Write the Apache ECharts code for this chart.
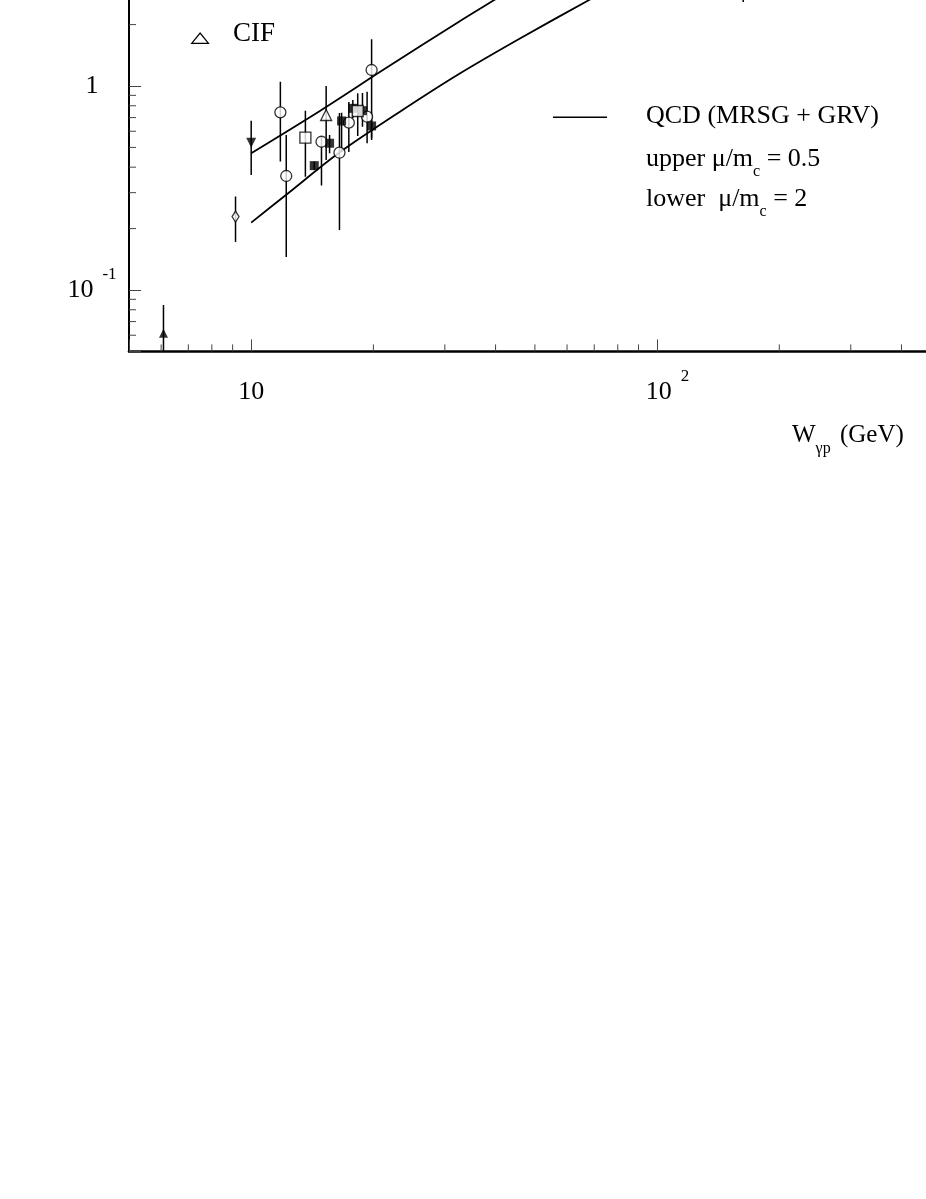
<!DOCTYPE html>
<html>
<head>
<meta charset="utf-8">
<script src="https://cdn.jsdelivr.net/npm/echarts@6/dist/echarts.min.js"></script>
<style>
html, body { margin: 0; padding: 0; width: 926px; height: 1199px; overflow: hidden; background: #fff; }
#chart { position: absolute; left: 0; top: -150px; width: 1100px; height: 1349px; }
</style>
</head>
<body>
<div id="chart"></div>
<script>
// chart is shifted up by OFFY so the top of the frame falls outside the page, like the cropped original
const OFFY = 150;
const FONT = "'Liberation Serif', 'DejaVu Serif', serif";

// axes
const xMin = 5, xMax = 1000;
const yMin = 0.05, yMax = 10;
const xMajor = [10, 100, 1000];
const xMajorLabels = ['{b|10}', '{p|}{b|10}{s|2}', '{p|}{b|10}{s|3}'];
const xMinor = [6, 7, 8, 9, 20, 30, 40, 50, 60, 70, 80, 90, 200, 300, 400, 500, 600, 700, 800, 900];
const yMajor = [0.1, 1, 10];
const yMajorLabels = ['{b|10}{s|-1}', '{b|1}', '{b|10}'];
const yMinor = [0.06, 0.07, 0.08, 0.09, 0.2, 0.3, 0.4, 0.5, 0.6, 0.7, 0.8, 0.9, 2, 3, 4, 5, 6, 7, 8, 9];

// data points: W (GeV), sigma, error low, error high
const circW  = [11.8, 12.2, 14.9, 16.5, 17.4, 19.3, 19.8];
const circS  = [0.743, 0.362, 0.533, 0.471, 0.661, 0.707, 1.198];
const circLo = [0.426, 0.145, 0.325, 0.197, 0.475, 0.524, 0.556];
const circHi = [1.05, 0.575, 0.564, 0.737, 0.835, 0.938, 1.694];

const fsqW  = [14.3, 15.6, 16.7, 17.8, 18.8, 19.8];
const fsqS  = [0.407, 0.524, 0.674, 0.777, 0.757, 0.637];
const fsqLo = [0.389, 0.468, 0.477, 0.697, 0.632, 0.544];
const fsqHi = [0.426, 0.575, 0.740, 0.854, 0.924, 0.681];

const osqW  = [13.6, 18.3];
const osqS  = [0.558, 0.754];
const osqLo = [0.359, 0.569];
const osqHi = [0.757, 0.921];

const cifW = [15.3], cifS = [0.721], cifLo = [0.434], cifHi = [1.0];
const dtriW = [10.0], dtriS = [0.527], dtriLo = [0.366], dtriHi = [0.676];
const utriW = [6.08], utriS = [0.0613], utriLo = [0.05], utriHi = [0.0845];
const diaW = [9.15], diaS = [0.229], diaLo = [0.172], diaHi = [0.287];
const topW = [163], topS = [5.0], topLo = [2.58], topHi = [7.0];

// QCD curves
const upperW = [10, 14.7, 21.3, 32.5, 39.7, 51.2];
const upperS = [0.468, 0.75, 1.21, 2.066, 2.64, 3.62];
const lowerW = [10, 12.2, 16.4, 23.2, 32.5, 45.7, 68.0, 95.5];
const lowerS = [0.214, 0.293, 0.468, 0.746, 1.145, 1.70, 2.64, 3.79];

const pts = (w, s) => w.map((x, i) => [x, s[i]]);
const bars = (w, s, lo, hi) => w.map((x, i) => [x, s[i], lo[i], hi[i]]);

const errData = [].concat(
  bars(circW, circS, circLo, circHi),
  bars(fsqW, fsqS, fsqLo, fsqHi),
  bars(osqW, osqS, osqLo, osqHi),
  bars(cifW, cifS, cifLo, cifHi),
  bars(dtriW, dtriS, dtriLo, dtriHi),
  bars(utriW, utriS, utriLo, utriHi),
  bars(diaW, diaS, diaLo, diaHi),
  bars(topW, topS, topLo, topHi)
);

function findLabel(v, ticks, labels) {
  for (let i = 0; i < ticks.length; i++) {
    if (Math.abs(Math.log10(v) - Math.log10(ticks[i])) < 1e-6) return labels[i];
  }
  return '';
}

const labelRich = {
  b: { fontFamily: FONT, fontSize: 26, lineHeight: 48, color: '#000' },
  s: { fontFamily: FONT, fontSize: 17, lineHeight: 15, verticalAlign: 'top', color: '#000', padding: [0, 0, 0, 9] },
  p: { width: 21, lineHeight: 48 }
};

const open = { color: '#fff', borderColor: '#000', borderWidth: 1.3 };
const filled = { color: '#000' };

const subRich = (size) => ({
  t: { fontFamily: FONT, fontSize: size, lineHeight: 40, fill: '#000' },
  c: { fontFamily: FONT, fontSize: 16, lineHeight: 15, verticalAlign: 'bottom', fill: '#000' }
});

const chart = echarts.init(document.getElementById('chart'));
chart.setOption({
  animation: false,
  backgroundColor: '#fff',
  grid: { left: 129, top: 32, width: 934, height: 469.4 },
  xAxis: {
    type: 'log', logBase: 10, min: xMin, max: xMax,
    axisLine: { lineStyle: { color: '#000', width: 2.6 } },
    axisTick: { inside: true, length: 12, lineStyle: { color: '#444', width: 1 } },
    splitLine: { show: false },
    axisLabel: {
      margin: 17, formatter: v => findLabel(v, xMajor, xMajorLabels), rich: labelRich
    }
  },
  yAxis: {
    type: 'log', logBase: 10, min: yMin, max: yMax,
    axisLine: { lineStyle: { color: '#000', width: 2 } },
    axisTick: { inside: true, length: 12, lineStyle: { color: '#444', width: 1 } },
    splitLine: { show: false },
    axisLabel: {
      margin: 37, align: 'center', formatter: v => findLabel(v, yMajor, yMajorLabels), rich: labelRich
    }
  },
  graphic: [
    { type: 'polygon', shape: { points: [[191.7, 43.3 + OFFY], [208.5, 43.3 + OFFY], [200.1, 33 + OFFY]] },
      style: { fill: 'none', stroke: '#000', lineWidth: 1.2 } },
    { type: 'text', x: 233, y: 34.2 + OFFY,
      style: { text: 'CIF', font: '27px ' + FONT, fill: '#000', verticalAlign: 'middle', align: 'left' } },
    { type: 'line', shape: { x1: 553, y1: 117.3 + OFFY, x2: 607, y2: 117.3 + OFFY },
      style: { stroke: '#000', lineWidth: 1.5 } },
    { type: 'text', x: 646, y: 96.3 + OFFY,
      style: { text: '{t|QCD (MRSG + GRV)}', verticalAlign: 'top', align: 'left', rich: subRich(26) } },
    { type: 'text', x: 646, y: 139.3 + OFFY,
      style: { text: '{t|upper μ/m}{c|c}{t| = 0.5}', verticalAlign: 'top', align: 'left', rich: subRich(26) } },
    { type: 'text', x: 646, y: 179.5 + OFFY,
      style: { text: '{t|lower  μ/m}{c|c}{t| = 2}', verticalAlign: 'top', align: 'left', rich: subRich(26) } },
    { type: 'text', x: 792, y: 413 + OFFY,
      style: { text: '{b|W}{sub|γp}{b| (GeV)}', verticalAlign: 'top', align: 'left',
        rich: { b: { fontFamily: FONT, fontSize: 25, lineHeight: 44, fill: '#000' },
                sub: { fontFamily: FONT, fontSize: 16, lineHeight: 15, verticalAlign: 'bottom', fill: '#000', padding: [0, 3, 0, 0] } } } }
  ],
  series: [
    // minor ticks
    { type: 'custom', silent: true, z: 1,
      data: yMinor.map(v => [xMin, v]),
      renderItem: (params, api) => {
        const p = api.coord([api.value(0), api.value(1)]);
        return { type: 'line', shape: { x1: p[0], y1: p[1], x2: p[0] + 7, y2: p[1] }, style: { stroke: '#444', lineWidth: 1 } };
      } },
    { type: 'custom', silent: true, z: 1,
      data: xMinor.map(v => [v, yMin]),
      renderItem: (params, api) => {
        const p = api.coord([api.value(0), api.value(1)]);
        return { type: 'line', shape: { x1: p[0], y1: p[1], x2: p[0], y2: p[1] - 7 }, style: { stroke: '#444', lineWidth: 1 } };
      } },
    // error bars
    { type: 'custom', silent: true, z: 2, clip: true,
      data: errData,
      renderItem: (params, api) => {
        const a = api.coord([api.value(0), api.value(2)]);
        const b = api.coord([api.value(0), api.value(3)]);
        return { type: 'line', shape: { x1: a[0], y1: a[1], x2: b[0], y2: b[1] }, style: { stroke: '#000', lineWidth: 1.5 } };
      } },
    // QCD curves
    { type: 'line', data: pts(upperW, upperS), smooth: 0.3, symbol: 'none', silent: true, z: 3,
      lineStyle: { color: '#000', width: 1.8 } },
    { type: 'line', data: pts(lowerW, lowerS), smooth: 0.3, symbol: 'none', silent: true, z: 3,
      lineStyle: { color: '#000', width: 1.8 } },
    // markers
    { type: 'scatter', data: pts(circW, circS), symbol: 'circle', symbolSize: 11, itemStyle: open, silent: true, z: 4 },
    { type: 'scatter', data: pts(fsqW, fsqS), symbol: 'rect', symbolSize: 9, itemStyle: filled, silent: true, z: 4 },
    { type: 'scatter', data: pts(osqW, osqS), symbol: 'rect', symbolSize: 11, itemStyle: open, silent: true, z: 4 },
    { type: 'scatter', data: pts(cifW, cifS), symbol: 'triangle', symbolSize: [11, 11], itemStyle: open, silent: true, z: 4 },
    { type: 'scatter', data: pts(dtriW, dtriS), symbol: 'triangle', symbolSize: [10, 10], symbolRotate: 180, itemStyle: filled, silent: true, z: 4 },
    { type: 'scatter', data: pts(utriW, utriS), symbol: 'triangle', symbolSize: [9, 9], itemStyle: filled, silent: true, z: 4 },
    { type: 'scatter', data: pts(diaW, diaS), symbol: 'diamond', symbolSize: [7, 11], itemStyle: open, silent: true, z: 4 },
    { type: 'scatter', data: pts(topW, topS), symbol: 'circle', symbolSize: 11, itemStyle: open, silent: true, z: 4 }
  ]
});
</script>
</body>
</html>
